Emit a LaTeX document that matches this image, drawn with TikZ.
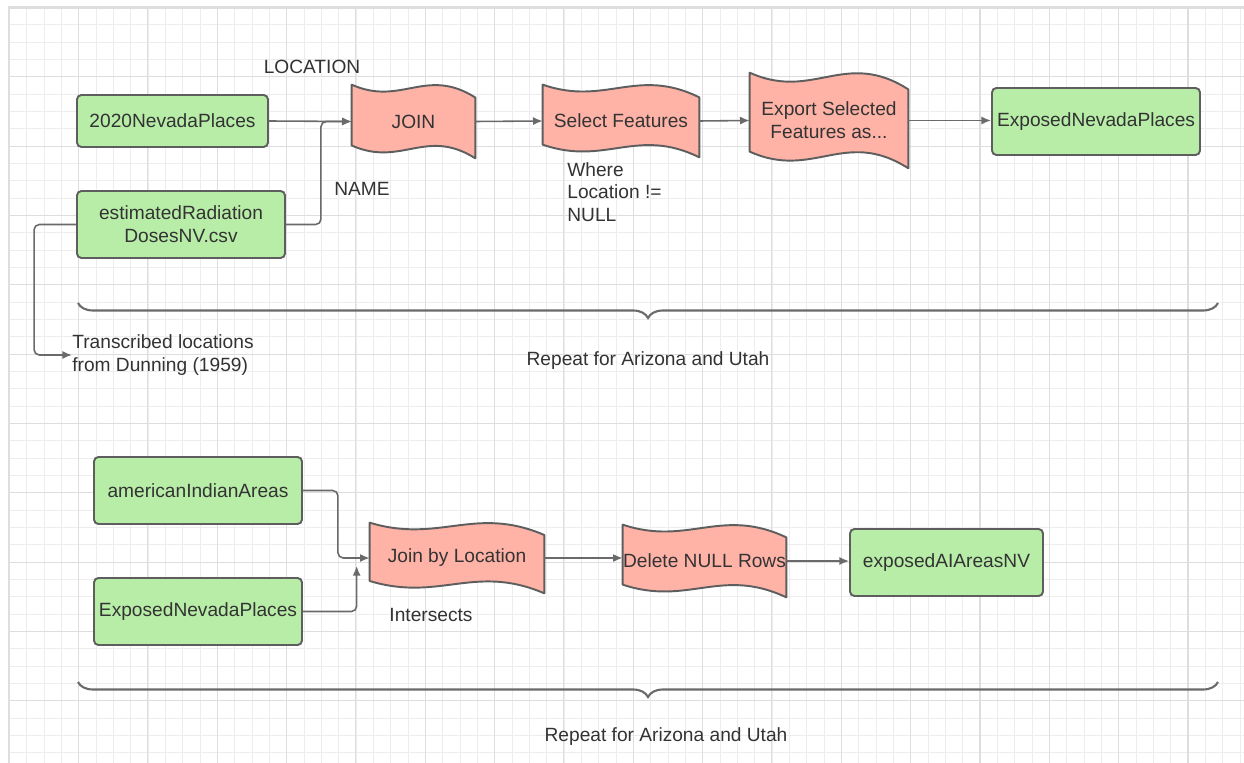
\documentclass[tikz,border=0pt]{standalone}
\usepackage{fontspec}
\setmainfont{Liberation Sans}
\usepackage{tikz}
\usetikzlibrary{calc,positioning,arrows,arrows.meta,decorations.pathreplacing,backgrounds}

\definecolor{okgreen}{HTML}{B8EDA8}
\definecolor{tapered}{HTML}{FFB3A7}
\definecolor{edgegray}{HTML}{5E5E5E}
\definecolor{linegray}{HTML}{6A6A6A}
\definecolor{txtgray}{HTML}{333333}
\definecolor{gridminor}{HTML}{EDEDED}
\definecolor{gridmajor}{HTML}{DEDEDE}

\pgfdeclarelayer{bg}
\pgfsetlayers{bg,main}

\tikzset{%
  font=\fontsize{10.9}{13}\selectfont,>={Latex[length=5.5pt,width=4.6pt]},
  block/.style    = { rectangle, draw=edgegray, line width=1.1pt, fill=okgreen, rounded corners=2.5pt, text=txtgray, align=center, inner sep=0pt },
  tapeblock/.style= { rectangle, inner sep=0pt, text=txtgray, align=center },
  tapeline/.style = { draw=edgegray, line width=1.1pt, fill=tapered, line join=round },
  line/.style     = { draw=linegray, line width=0.9pt, ->, rounded corners=3pt },
  lbl/.style      = { text=txtgray, inner sep=0pt, align=left },
  curly/.style    = { draw=linegray, line width=1.2pt, decorate, decoration={brace,amplitude=0.3cm} },
  gridline/.style = { draw=gridminor, line width=0.5pt },
  gridbold/.style = { draw=gridmajor, line width=0.6pt }
}

% wavy paper tape drawn behind a named node
\newcommand\tapeback[1]{%
  \begin{pgfonlayer}{bg}
  \path[tapeline] let \p1=(#1.north west), \p2=(#1.south east),
      \n1={\x2-\x1}, \n2={\y1-\y2} in
    (\x1,\y1) .. controls ({\x1+0.4*\n1},{\y1-0.3*\n2}) and ({\x1+0.6*\n1},{\y1+0.25*\n2}) .. (\x2,{\y1-0.175*\n2})
    -- (\x2,\y2)
    .. controls ({\x1+0.6*\n1},{\y2+0.425*\n2}) and ({\x1+0.4*\n1},{\y2-0.125*\n2}) .. (\x1,{\y2+0.175*\n2})
    -- cycle;
  \end{pgfonlayer}}

\begin{document}
\begin{tikzpicture}[x=0.02cm,y=-0.02cm]
	\useasboundingbox (0,0) rectangle (1244,763);
	% grid paper
	\begin{pgfonlayer}{bg}
	\fill[white] (0,0) rectangle (1244,763);
	\foreach \i in {0,...,71} \draw[gridline] ({9.3+17.333*\i},7.5) -- ({9.3+17.333*\i},763);
	\foreach \j in {0,...,43} \draw[gridline] (9.3,{7.5+17.333*\j}) -- (1244,{7.5+17.333*\j});
	\foreach \i in {0,...,17} \draw[gridbold] ({9.3+69.333*\i},7.5) -- ({9.3+69.333*\i},763);
	\foreach \j in {0,...,10} \draw[gridbold] (9.3,{7.5+69.333*\j}) -- (1244,{7.5+69.333*\j});
	\draw[gridmajor,line width=1.4pt] (9,763) -- (9,7.5) -- (1244,7.5);
	\end{pgfonlayer}

	% --- Nevada places ---
	\node[block,minimum width=3.82cm,minimum height=1.04cm] (places) at (172.5,121) {2020NevadaPlaces};
	\node[block,minimum width=4.16cm,minimum height=1.34cm] (doses) at (181,224.5) {estimatedRadiation\\DosesNV.csv};
	\node[tapeblock,minimum width=2.46cm,minimum height=1.46cm] (join) at (413.5,121.5) {JOIN};
	\node[tapeblock,minimum width=3.12cm,minimum height=1.44cm] (select) at (621,121) {Select Features};
	\node[tapeblock,minimum width=3.16cm,minimum height=1.90cm] (export) at (829,120.5) {Export Selected\\Features as...};
	\node[block,minimum width=4.16cm,minimum height=1.34cm] (exposed) at (1096,121.5) {ExposedNevadaPlaces};
	\tapeback{join}\tapeback{select}\tapeback{export}

	\node[lbl] (location) at (312,67) {LOCATION};
	\node[lbl] (name) at (362,189) {NAME};
	\node[lbl,anchor=west] (where) at (567,192) {Where\\Location !=\\NULL};
	\node[lbl,anchor=west] (dunning) at (72,355) {Transcribed locations\\from Dunning (1959)};

	\draw[line] (places.east) -- (join.west);
	\draw[line] (doses.east) -- ++(35,0) |- (join.west);
	\draw[line] (join.east) -- (select.west);
	\draw[line] (select.east) -- (export.west);
	\draw[line] (export.east) -- (export.east -| exposed.west);
	\draw[line] (doses.west) -- ++(-42,0) |- (dunning.west);

	\coordinate (brace1l) at (78,303);
	\coordinate (brace1r) at (1218,303);
	\draw[curly] (brace1r) -- (brace1l);
	\node[lbl] (repeat1) at (648,361) {Repeat for Arizona and Utah};

	% --- American Indian areas ---
	\node[block,minimum width=4.16cm,minimum height=1.34cm] (aiareas) at (198,490.5) {americanIndianAreas};
	\node[block,minimum width=4.16cm,minimum height=1.34cm] (exposedb) at (198,611.5) {ExposedNevadaPlaces};
	\node[tapeblock,minimum width=3.48cm,minimum height=1.40cm] (joinloc) at (457,558) {Join by Location};
	\node[tapeblock,minimum width=3.26cm,minimum height=1.44cm] (delnull) at (704.5,561) {Delete NULL Rows};
	\node[block,minimum width=3.86cm,minimum height=1.34cm] (exposedai) at (946.5,562.5) {exposedAIAreasNV};
	\tapeback{joinloc}\tapeback{delnull}

	\node[lbl] (intersects) at (431,615) {Intersects};

	\coordinate (uptip) at ([shift={(-13,8)}]joinloc.west);
	\draw[line] (aiareas.east) -- ++(35,0) |- (joinloc.west);
	\draw[line] (exposedb.east) -| (uptip);
	\draw[line] (joinloc.east) -- (joinloc.east -| delnull.west);
	\draw[line] (delnull.east) -- (delnull.east -| exposedai.west);

	\coordinate (brace2l) at (78,682);
	\coordinate (brace2r) at (1218,682);
	\draw[curly] (brace2r) -- (brace2l);
	\node[lbl] (repeat2) at (666,737) {Repeat for Arizona and Utah};
\end{tikzpicture}
\end{document}
